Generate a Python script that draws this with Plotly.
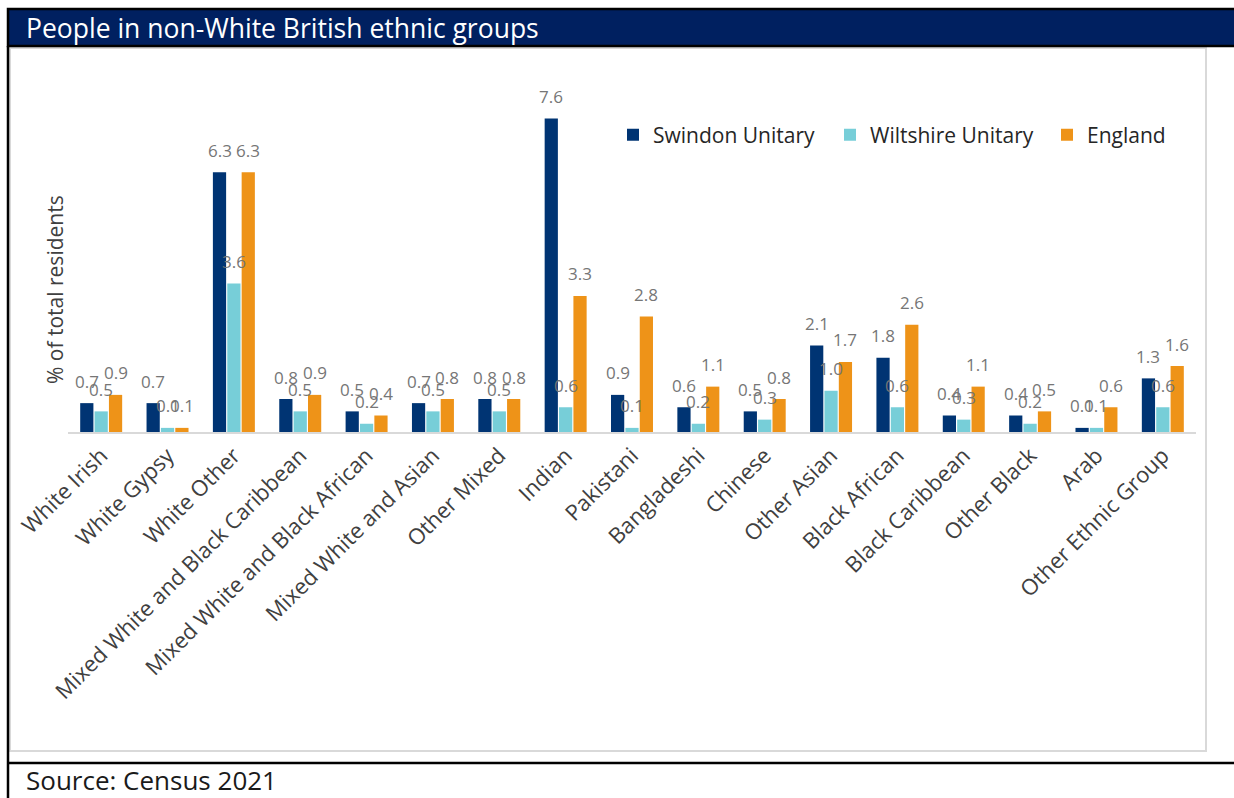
import plotly.graph_objects as go

# Ethnic group categories (x axis)
categories = [
    "White Irish", "White Gypsy", "White Other", "Mixed White and Black Caribbean",
    "Mixed White and Black African", "Mixed White and Asian", "Other Mixed",
    "Indian", "Pakistani", "Bangladeshi", "Chinese", "Other Asian",
    "Black African", "Black Caribbean", "Other Black", "Arab", "Other Ethnic Group",
]

# Percentage of total residents per area
swindon = [0.7, 0.7, 6.3, 0.8, 0.5, 0.7, 0.8, 7.6, 0.9, 0.6, 0.5, 2.1, 1.8, 0.4, 0.4, 0.1, 1.3]
wiltshire = [0.5, 0.1, 3.6, 0.5, 0.2, 0.5, 0.5, 0.6, 0.1, 0.2, 0.3, 1.0, 0.6, 0.3, 0.2, 0.1, 0.6]
england = [0.9, 0.1, 6.3, 0.9, 0.4, 0.8, 0.8, 3.3, 2.8, 1.1, 0.8, 1.7, 2.6, 1.1, 0.5, 0.6, 1.6]

series_names = ["Swindon Unitary", "Wiltshire Unitary", "England"]
series_values = [swindon, wiltshire, england]
series_colors = ["#003473", "#77CED8", "#EE9318"]

FONT = "Open Sans"
W_PX, H_PX = 1234, 798
L, R, T, B = 68, 1196, 102, 432          # plot area edges in pixels
Y_MAX = 8
BARGAP, GROUPGAP = 0.35, 0.08

def px(x):
    return (x - L) / (R - L)

def py(y):
    return (B - y) / (B - T)

fig = go.Figure()
for name, vals, col in zip(series_names, series_values, series_colors):
    fig.add_trace(go.Bar(
        x=categories, y=vals, name=name,
        marker=dict(color=col, line=dict(width=0)),
        hoverinfo="x+y+name",
    ))

# Value labels above each bar
cat_px = (R - L) / len(categories)
slot_px = cat_px * (1 - BARGAP) / len(series_names)
annotations = []
for j, vals in enumerate(series_values):
    shift = (j - (len(series_names) - 1) / 2) * slot_px
    for c, v in zip(categories, vals):
        annotations.append(dict(
            x=c, y=v, xref="x", yref="y", text=f"{v:.1f}", showarrow=False,
            xshift=shift, yshift=22, yanchor="middle",
            font=dict(family=FONT, size=17, color="#767676"),
        ))

# Y axis title
annotations.append(dict(
    x=px(55), y=py(290), xref="paper", yref="paper", text="% of total residents",
    textangle=-90, showarrow=False, xanchor="center", yanchor="middle",
    font=dict(family=FONT, size=21, color="#404040"),
))
# Header and source text
annotations.append(dict(
    x=px(24), y=py(28), xref="paper", yref="paper",
    text="People in non-White British ethnic groups", showarrow=False,
    xanchor="left", yanchor="middle",
    font=dict(family=FONT, size=26.5, color="#ffffff"),
))
annotations.append(dict(
    x=px(24), y=py(780), xref="paper", yref="paper",
    text="Source: Census 2021", showarrow=False,
    xanchor="left", yanchor="middle",
    font=dict(family=FONT, size=26, color="#1a1a1a"),
))

shapes = [
    # chart frame
    dict(type="rect", xref="paper", yref="paper", x0=px(10), x1=px(1206), y0=py(48), y1=py(751),
         line=dict(color="#d9d9d9", width=2), fillcolor="rgba(0,0,0,0)", layer="below"),
    # header bar
    dict(type="rect", xref="paper", yref="paper", x0=px(8), x1=px(1240), y0=py(9), y1=py(46),
         line=dict(color="#000000", width=2.5), fillcolor="#002060"),
    # left rule
    dict(type="line", xref="paper", yref="paper", x0=px(8), x1=px(8), y0=py(46), y1=py(800),
         line=dict(color="#000000", width=2.5)),
    # rule above source
    dict(type="line", xref="paper", yref="paper", x0=px(8), x1=px(1240), y0=py(763), y1=py(763),
         line=dict(color="#000000", width=2.5)),
]

fig.update_layout(
    width=W_PX, height=H_PX,
    margin=dict(l=L, r=W_PX - R, t=T, b=H_PX - B, autoexpand=False),
    paper_bgcolor="#ffffff", plot_bgcolor="#ffffff",
    barmode="group", bargap=BARGAP, bargroupgap=GROUPGAP,
    showlegend=True,
    legend=dict(
        orientation="h", x=px(613), y=py(135), xanchor="left", yanchor="middle",
        entrywidth=172, entrywidthmode="pixels",
        font=dict(family=FONT, size=21, color="#262626"),
        bgcolor="rgba(0,0,0,0)", itemclick=False, itemdoubleclick=False,
    ),
    annotations=annotations,
    shapes=shapes,
    xaxis=dict(
        type="category", tickangle=-45, automargin=False,
        tickfont=dict(family=FONT, size=22, color="#404040"),
        showline=True, linecolor="#d9d9d9", linewidth=2,
        ticks="", showgrid=False,
    ),
    yaxis=dict(
        range=[0, Y_MAX], showticklabels=False, showgrid=False, zeroline=False,
        showline=False, ticks="", automargin=False,
    ),
    font=dict(family=FONT),
)

fig.write_html("out.html")
